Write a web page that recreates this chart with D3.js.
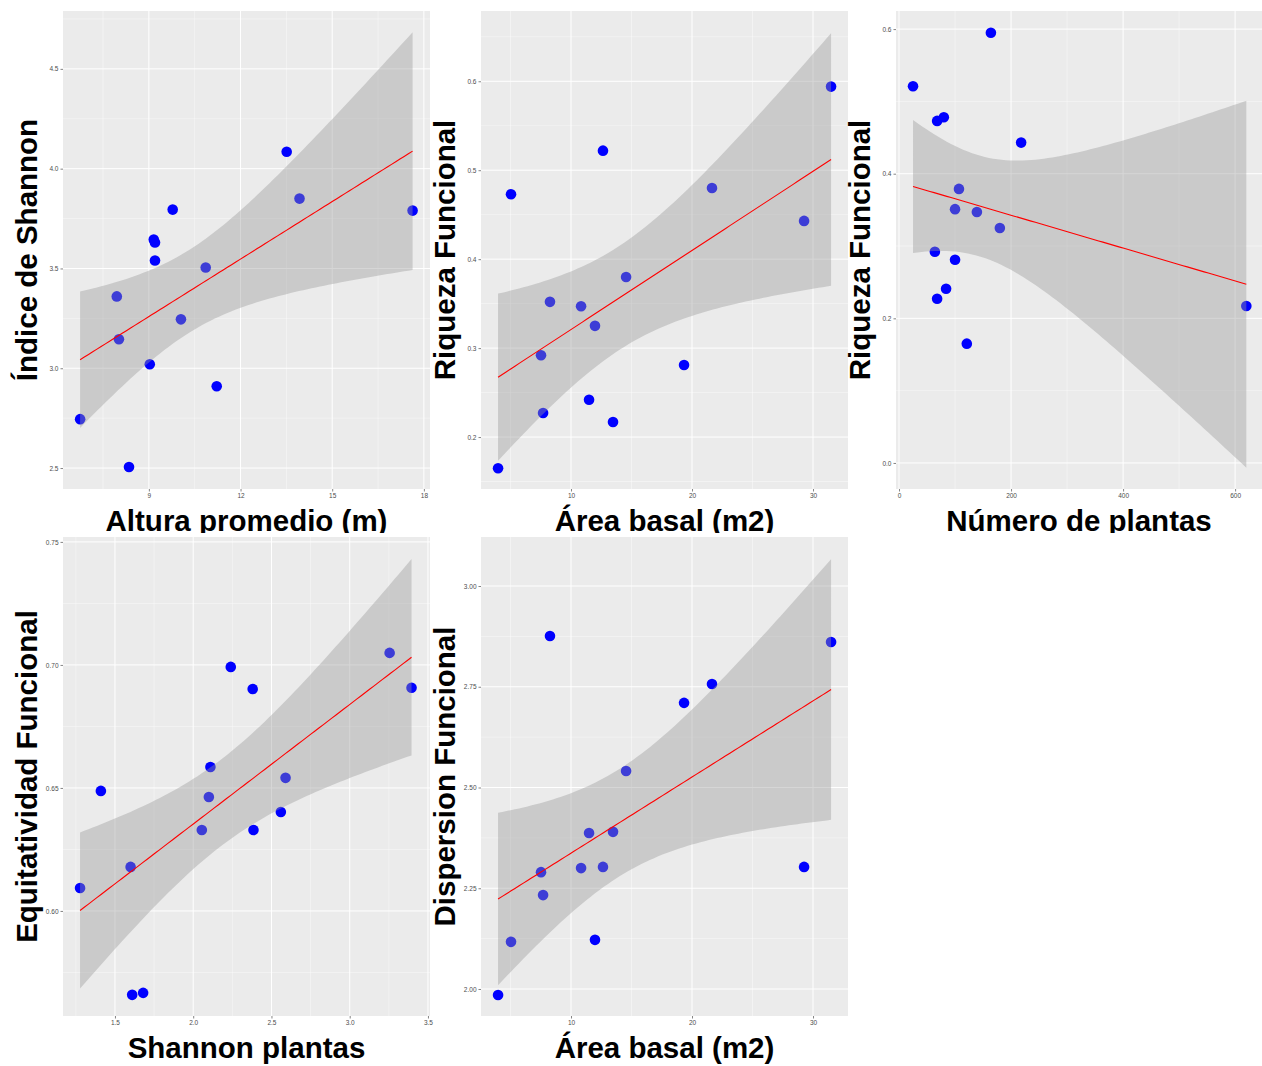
<!DOCTYPE html>
<html>
<head>
<meta charset="utf-8">
<script src="https://cdn.jsdelivr.net/npm/d3@7"></script>
<style>
  body { margin: 0; background: #fff; }
  svg { display: block; }
</style>
</head>
<body>
<svg id="chart" width="1262" height="1066"></svg>
<script>
// ---- data ----
let alturaProm = [6.75, 7.95, 8.02, 8.35, 9.03, 9.16, 9.2, 9.2, 9.78, 10.05, 10.86, 11.22, 13.51, 13.93, 17.63];
let shannonIdx = [2.745, 3.36, 3.145, 2.505, 3.02, 3.645, 3.63, 3.54, 3.795, 3.245, 3.505, 2.91, 4.085, 3.85, 3.79];

let areaBasal = [3.97, 5.04, 8.26, 7.52, 7.69, 10.83, 11.98, 11.49, 12.64, 13.47, 14.55, 19.34, 21.65, 29.26, 31.49];
let riquezaA = [0.165, 0.473, 0.352, 0.292, 0.227, 0.347, 0.325, 0.242, 0.522, 0.217, 0.38, 0.281, 0.48, 0.443, 0.594];
let dispersion = [1.985, 2.117, 2.876, 2.29, 2.233, 2.30, 2.122, 2.387, 2.303, 2.39, 2.541, 2.71, 2.757, 2.303, 2.861];

let numPlantas = [25, 164, 68, 80, 218, 107, 100, 139, 180, 64, 100, 84, 68, 121, 620];
let riquezaN = [0.521, 0.595, 0.473, 0.478, 0.443, 0.379, 0.351, 0.347, 0.325, 0.292, 0.281, 0.241, 0.227, 0.165, 0.217];

let shannonPl = [1.277, 1.41, 1.60, 1.61, 1.68, 2.055, 2.10, 2.11, 2.24, 2.38, 2.385, 2.56, 2.59, 3.255, 3.395];
let equitat = [0.6093, 0.6488, 0.6179, 0.5659, 0.5667, 0.6329, 0.6463, 0.6585, 0.6992, 0.6902, 0.6329, 0.6402, 0.6541, 0.7049, 0.6907];

// tick labels
let ticks1x = [9, 12, 15, 18], ticks1y = [2.5, 3.0, 3.5, 4.0, 4.5];
let ticks2x = [10, 20, 30], ticks2y = [0.2, 0.3, 0.4, 0.5, 0.6];
let ticks3x = [0, 200, 400, 600], ticks3y = [0.0, 0.2, 0.4, 0.6];
let ticks4x = [1.5, 2.0, 2.5, 3.0, 3.5], ticks4y = [0.60, 0.65, 0.70, 0.75];
let ticks5x = [10, 20, 30], ticks5y = [2.00, 2.25, 2.50, 2.75, 3.00];

// t quantile (0.975) for small df
let tq = {10: 2.228, 11: 2.201, 12: 2.179, 13: 2.160, 14: 2.145, 15: 2.131};

let svg = d3.select("#chart");
let font = "Arial, 'Liberation Sans', sans-serif";

function lmFit(xs, ys) {
    let n = xs.length;
    let mx = d3.mean(xs), my = d3.mean(ys);
    let sxx = d3.sum(xs, x => (x - mx) * (x - mx));
    let sxy = d3.sum(xs.map((x, i) => (x - mx) * (ys[i] - my)));
    let b = sxy / sxx, a = my - b * mx;
    let rss = d3.sum(xs.map((x, i) => Math.pow(ys[i] - (a + b * x), 2)));
    let s = Math.sqrt(rss / (n - 2));
    let t = tq[n - 2] || 2.0;
    let lo = d3.min(xs), hi = d3.max(xs);
    let pts = d3.range(80).map(i => {
        let x = lo + (hi - lo) * i / 79;
        let fit = a + b * x;
        let se = s * Math.sqrt(1 / n + (x - mx) * (x - mx) / sxx);
        return {x: x, y: fit, lo: fit - t * se, hi: fit + t * se};
    });
    return pts;
}

function minors(t, dom) {
    let step = t[1] - t[0];
    let out = [];
    for (let v = t[0] - step / 2; v <= dom[1]; v += step) {
        if (v >= dom[0]) out.push(v);
    }
    return out;
}

function drawPanel(cfg) {
    let g = svg.append("g");
    if (cfg.clip) {
        let id = "clip" + cfg.id;
        svg.append("clipPath").attr("id", id)
            .append("rect").attr("x", cfg.left - 60).attr("y", 0)
            .attr("width", cfg.right - cfg.left + 70).attr("height", cfg.clip);
        g.attr("clip-path", "url(#" + id + ")");
    }

    let x = d3.scaleLinear().domain(cfg.xdom).range([cfg.left, cfg.right]);
    let y = d3.scaleLinear().domain(cfg.ydom).range([cfg.bottom, cfg.top]);

    g.append("rect")
        .attr("x", cfg.left).attr("y", cfg.top)
        .attr("width", cfg.right - cfg.left).attr("height", cfg.bottom - cfg.top)
        .attr("fill", "#EBEBEB");

    // minor grid
    minors(cfg.xt, cfg.xdom).forEach(v => {
        g.append("line").attr("x1", x(v)).attr("x2", x(v))
            .attr("y1", cfg.top).attr("y2", cfg.bottom)
            .attr("stroke", "#fff").attr("stroke-width", 0.5).attr("opacity", 0.8);
    });
    minors(cfg.yt, cfg.ydom).forEach(v => {
        g.append("line").attr("y1", y(v)).attr("y2", y(v))
            .attr("x1", cfg.left).attr("x2", cfg.right)
            .attr("stroke", "#fff").attr("stroke-width", 0.5).attr("opacity", 0.8);
    });
    // major grid
    cfg.xt.forEach(v => {
        g.append("line").attr("x1", x(v)).attr("x2", x(v))
            .attr("y1", cfg.top).attr("y2", cfg.bottom)
            .attr("stroke", "#fff").attr("stroke-width", 1);
    });
    cfg.yt.forEach(v => {
        g.append("line").attr("y1", y(v)).attr("y2", y(v))
            .attr("x1", cfg.left).attr("x2", cfg.right)
            .attr("stroke", "#fff").attr("stroke-width", 1);
    });

    // axes
    let xAxis = d3.axisBottom(x).tickValues(cfg.xt).tickFormat(d3.format(cfg.xf))
        .tickSize(2.5).tickPadding(2);
    let yAxis = d3.axisLeft(y).tickValues(cfg.yt).tickFormat(d3.format(cfg.yf))
        .tickSize(2.5).tickPadding(2);

    let ax = g.append("g").attr("transform", "translate(0," + cfg.bottom + ")").call(xAxis);
    let ay = g.append("g").attr("transform", "translate(" + cfg.left + ",0)").call(yAxis);
    [ax, ay].forEach(a => {
        a.select(".domain").remove();
        a.selectAll(".tick line").attr("stroke", "#333").attr("stroke-width", 0.6);
        a.selectAll(".tick text").attr("fill", "#4D4D4D")
            .style("font-family", font).style("font-size", "6.5px");
    });

    // points (drawn under the ribbon, as ggplot does)
    g.selectAll("circle.pt")
        .data(cfg.xs.map((v, i) => ({x: v, y: cfg.ys[i]})))
        .join("circle")
        .attr("class", "pt")
        .attr("cx", d => x(d.x))
        .attr("cy", d => y(d.y))
        .attr("r", 5.3)
        .attr("fill", "#0000FF");

    let fit = lmFit(cfg.xs, cfg.ys);
    g.append("path")
        .datum(fit)
        .attr("d", d3.area().x(d => x(d.x)).y0(d => y(d.lo)).y1(d => y(d.hi)))
        .attr("fill", "#999999")
        .attr("fill-opacity", 0.4);
    g.append("path")
        .datum(fit)
        .attr("d", d3.line().x(d => x(d.x)).y(d => y(d.y)))
        .attr("fill", "none")
        .attr("stroke", "#FF0000")
        .attr("stroke-width", 1.1);

    // axis titles
    g.append("text")
        .attr("x", (cfg.left + cfg.right) / 2)
        .attr("y", cfg.bottom + 42)
        .attr("text-anchor", "middle")
        .style("font-family", font).style("font-size", "29.5px").style("font-weight", "bold")
        .text(cfg.xlab);
    g.append("text")
        .attr("transform", "translate(" + (cfg.left - 26) + "," + ((cfg.top + cfg.bottom) / 2) + ") rotate(-90)")
        .attr("text-anchor", "middle")
        .style("font-family", font).style("font-size", "29.5px").style("font-weight", "bold")
        .text(cfg.ylab);
}

drawPanel({id: 1, left: 63, right: 430, top: 11, bottom: 489, clip: 533,
    xdom: [6.19, 18.2], ydom: [2.395, 4.79], xt: ticks1x, yt: ticks1y, xf: "d", yf: ".1f",
    xs: alturaProm, ys: shannonIdx, xlab: "Altura promedio (m)", ylab: "Índice de Shannon"});

drawPanel({id: 2, left: 481, right: 848, top: 11, bottom: 489, clip: 533,
    xdom: [2.56, 32.89], ydom: [0.1416, 0.679], xt: ticks2x, yt: ticks2y, xf: "d", yf: ".1f",
    xs: areaBasal, ys: riquezaA, xlab: "Área basal (m2)", ylab: "Riqueza Funcional"});

drawPanel({id: 3, left: 896, right: 1262, top: 11, bottom: 489, clip: 533,
    xdom: [-5.4, 648], ydom: [-0.036, 0.625], xt: ticks3x, yt: ticks3y, xf: "d", yf: ".1f",
    xs: numPlantas, ys: riquezaN, xlab: "Número de plantas", ylab: "Riqueza Funcional"});

drawPanel({id: 4, left: 63, right: 430, top: 537, bottom: 1016,
    xdom: [1.168, 3.513], ydom: [0.5573, 0.752], xt: ticks4x, yt: ticks4y, xf: ".1f", yf: ".2f",
    xs: shannonPl, ys: equitat, xlab: "Shannon plantas", ylab: "Equitatividad Funcional"});

drawPanel({id: 5, left: 481, right: 848, top: 537, bottom: 1016,
    xdom: [2.56, 32.89], ydom: [1.933, 3.1216], xt: ticks5x, yt: ticks5y, xf: "d", yf: ".2f",
    xs: areaBasal, ys: dispersion, xlab: "Área basal (m2)", ylab: "Dispersion Funcional"});
</script>
</body>
</html>
